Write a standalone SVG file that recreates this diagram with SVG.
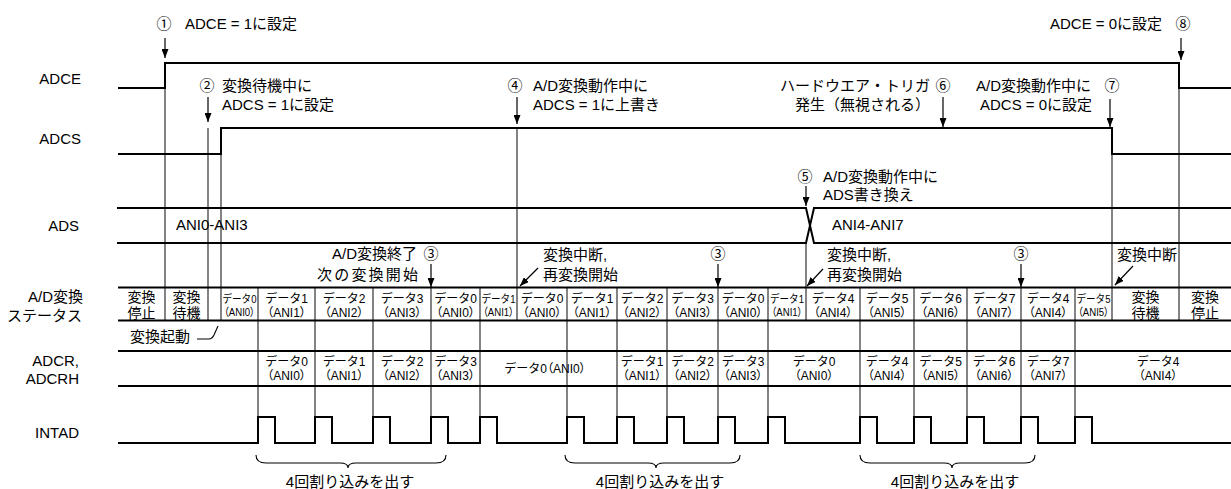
<svg xmlns="http://www.w3.org/2000/svg" width="1231" height="489" viewBox="0 0 1231 489">
<defs>
<style>
text{font-family:"Liberation Sans","Noto Sans CJK JP",sans-serif;fill:#000}
.lbl{font-size:15px;text-anchor:end}
.ann{font-size:15px}
.num{font-size:15px;text-anchor:middle}
.c{font-size:12px;text-anchor:middle}
.k{font-size:14px;text-anchor:middle}
.s{font-size:11px;text-anchor:middle}
.p{font-feature-settings:"palt"}
.sig{fill:none;stroke:#000;stroke-width:2}
.row{fill:none;stroke:#000;stroke-width:2}
.g{stroke:#333;stroke-width:1.2;fill:none}
.arr{stroke:#000;stroke-width:1.2;fill:none;marker-end:url(#ah)}
.br{stroke:#000;stroke-width:1.1;fill:none}
</style>
<marker id="ah" viewBox="0 0 9 7" refX="9" refY="3.5" markerWidth="9" markerHeight="7" markerUnits="userSpaceOnUse" orient="auto"><path d="M0,0 L9,3.5 L0,7 z" fill="#000"/></marker>
</defs>
<rect width="1231" height="489" fill="#fff"/>

<g id="connectors">
<path class="g" d="M165,88V320 M208,128V320 M221,154V320 M517,128V320 M806,243V320 M1112,154V320 M1179,88V320"/>
<path class="g" d="M258,287V443 M315,287V443 M373,287V443 M431,287V443 M480,287V443 M567,287V443 M617,287V443 M667,287V443 M718,287V443 M768,287V443 M860,287V443 M914,287V443 M967,287V443 M1021,287V443 M1075,287V443"/>
<path class="arr" d="M165,38V58"/>
<path class="arr" d="M208,97V122"/>
<path class="arr" d="M517,97V124"/>
<path class="arr" d="M943,97V127"/>
<path class="arr" d="M1110,99V127"/>
<path class="arr" d="M1181,38V60"/>
<path class="arr" d="M806,186V206"/>
<path class="arr" d="M431,264V287"/>
<path class="arr" d="M718,264V287"/>
<path class="arr" d="M1021,264V287"/>
<path class="arr" d="M538,268L520,286"/>
<path class="arr" d="M823,269L807,286"/>
<path class="arr" d="M1133,266L1115,285"/>
<path class="br" d="M197,339H209Q212,339 214,335L218,326"/>
<path class="br" d="M256,455Q256,463 266,463L340,463Q348,463 348,468Q348,463 356,463L436,463Q446,463 446,455"/>
<path class="br" d="M565,455Q565,463 575,463L648,463Q656,463 656,468Q656,463 664,463L730,463Q740,463 740,455"/>
<path class="br" d="M860,455Q860,463 870,463L944,463Q952,463 952,468Q952,463 960,463L1025,463Q1035,463 1035,455"/>
</g>

<g id="labels">
<text class="lbl" x="81" y="84">ADCE</text>
<text class="lbl" x="81" y="144">ADCS</text>
<text class="lbl" x="79" y="231">ADS</text>
<text class="lbl" x="83" y="302">A/D変換</text>
<text class="lbl" x="82" y="321">ステータス</text>
<text class="lbl" x="79" y="366">ADCR,</text>
<text class="lbl" x="79" y="384">ADCRH</text>
<text class="lbl" x="79" y="438">INTAD</text>
</g>

<g id="adce"><path class="sig" d="M118,88H165V63H1179V88H1231"/></g>
<g id="adcs"><path class="sig" d="M118,154H221V128H1112V154H1231"/></g>
<g id="ads">
<path class="sig" d="M117,208H806L814,243H1231 M117,243H806L814,208H1231"/>
<text class="ann" x="176" y="230">ANI0-ANI3</text>
<text class="ann" x="832" y="230">ANI4-ANI7</text>
</g>

<g id="status">
<path class="row" d="M118,287.5H1231 M118,320.5H1231"/>
<text class="k" x="141.5" y="302">変換</text><text class="k" x="141.5" y="318">停止</text>
<text class="k" x="186.5" y="302">変換</text><text class="k" x="186.5" y="318">待機</text>
<text class="s" x="239.5" y="303" textLength="34" lengthAdjust="spacingAndGlyphs">データ0</text><text class="s p" x="239.5" y="316" textLength="31" lengthAdjust="spacingAndGlyphs">（ANI0）</text>
<text class="c" x="286.5" y="303">データ1</text><text class="c p" x="286.5" y="317">（ANI1）</text>
<text class="c" x="344" y="303">データ2</text><text class="c p" x="344" y="317">（ANI2）</text>
<text class="c" x="402" y="303">データ3</text><text class="c p" x="402" y="317">（ANI3）</text>
<text class="c" x="455.5" y="303">データ0</text><text class="c p" x="455.5" y="317">（ANI0）</text>
<text class="s" x="498.5" y="303" textLength="34" lengthAdjust="spacingAndGlyphs">データ1</text><text class="s p" x="498.5" y="316" textLength="31" lengthAdjust="spacingAndGlyphs">（ANI1）</text>
<text class="c" x="542" y="303">データ0</text><text class="c p" x="542" y="317">（ANI0）</text>
<text class="c" x="592" y="303">データ1</text><text class="c p" x="592" y="317">（ANI1）</text>
<text class="c" x="642" y="303">データ2</text><text class="c p" x="642" y="317">（ANI2）</text>
<text class="c" x="692.5" y="303">データ3</text><text class="c p" x="692.5" y="317">（ANI3）</text>
<text class="c" x="743" y="303">データ0</text><text class="c p" x="743" y="317">（ANI0）</text>
<text class="s" x="787" y="303" textLength="34" lengthAdjust="spacingAndGlyphs">データ1</text><text class="s p" x="787" y="316" textLength="31" lengthAdjust="spacingAndGlyphs">（ANI1）</text>
<text class="c" x="833" y="303">データ4</text><text class="c p" x="833" y="317">（ANI4）</text>
<text class="c" x="887" y="303">データ5</text><text class="c p" x="887" y="317">（ANI5）</text>
<text class="c" x="940.5" y="303">データ6</text><text class="c p" x="940.5" y="317">（ANI6）</text>
<text class="c" x="994" y="303">データ7</text><text class="c p" x="994" y="317">（ANI7）</text>
<text class="c" x="1048" y="303">データ4</text><text class="c p" x="1048" y="317">（ANI4）</text>
<text class="s" x="1093.5" y="303" textLength="34" lengthAdjust="spacingAndGlyphs">データ5</text><text class="s p" x="1093.5" y="316" textLength="31" lengthAdjust="spacingAndGlyphs">（ANI5）</text>
<text class="k" x="1145.5" y="302">変換</text><text class="k" x="1145.5" y="318">待機</text>
<text class="k" x="1205" y="302">変換</text><text class="k" x="1205" y="318">停止</text>
</g>

<g id="adcr">
<path class="row" d="M118,351H1231 M118,386H1231"/>
<text class="c" x="286.5" y="366">データ0</text><text class="c p" x="286.5" y="380">（ANI0）</text>
<text class="c" x="344" y="366">データ1</text><text class="c p" x="344" y="380">（ANI1）</text>
<text class="c" x="402" y="366">データ2</text><text class="c p" x="402" y="380">（ANI2）</text>
<text class="c" x="455.5" y="366">データ3</text><text class="c p" x="455.5" y="380">（ANI3）</text>
<text class="c" x="545" y="373">データ0<tspan class="p">（ANI0）</tspan></text>
<text class="c" x="642" y="366">データ1</text><text class="c p" x="642" y="380">（ANI1）</text>
<text class="c" x="692.5" y="366">データ2</text><text class="c p" x="692.5" y="380">（ANI2）</text>
<text class="c" x="743" y="366">データ3</text><text class="c p" x="743" y="380">（ANI3）</text>
<text class="c" x="814" y="366">データ0</text><text class="c p" x="814" y="380">（ANI0）</text>
<text class="c" x="887" y="366">データ4</text><text class="c p" x="887" y="380">（ANI4）</text>
<text class="c" x="940.5" y="366">データ5</text><text class="c p" x="940.5" y="380">（ANI5）</text>
<text class="c" x="994" y="366">データ6</text><text class="c p" x="994" y="380">（ANI6）</text>
<text class="c" x="1048" y="366">データ7</text><text class="c p" x="1048" y="380">（ANI7）</text>
<text class="c" x="1158" y="366">データ4</text><text class="c p" x="1158" y="380">（ANI4）</text>
</g>

<g id="intad">
<path class="sig" d="M118,443H258V417H275V443H315V417H332V443H373V417H390V443H431V417H448V443H480V417H497V443H567V417H584V443H617V417H634V443H667V417H684V443H718V417H735V443H768V417H785V443H860V417H877V443H914V417H931V443H967V417H984V443H1021V417H1038V443H1075V417H1092V443H1231"/>
</g>

<g id="annotations">
<text class="num" x="164" y="29">①</text><text class="ann" x="185" y="29">ADCE = 1に設定</text>
<text class="num" x="207" y="91">②</text><text class="ann" x="222" y="91">変換待機中に</text><text class="ann" x="222" y="110">ADCS = 1に設定</text>
<text class="num" x="515" y="91">④</text><text class="ann" x="533" y="91">A/D変換動作中に</text><text class="ann" x="533" y="110">ADCS = 1に上書き</text>
<text class="ann" x="780" y="91">ハードウエア・トリガ</text><text class="num" x="943" y="91">⑥</text>
<text class="ann" x="795" y="110">発生（無視される）</text>
<text class="ann" x="976" y="91">A/D変換動作中に</text><text class="num" x="1112" y="91">⑦</text>
<text class="ann" x="980" y="110">ADCS = 0に設定</text>
<text class="ann" x="1050" y="29">ADCE = 0に設定</text><text class="num" x="1183" y="29">⑧</text>
<text class="num" x="805" y="182">⑤</text><text class="ann" x="823" y="182">A/D変換動作中に</text><text class="ann" x="823" y="200">ADS書き換え</text>
<text class="ann" x="332" y="259">A/D変換終了</text><text class="num" x="431" y="259">③</text>
<text class="ann" x="317" y="280" textLength="101">次の変換開始</text>
<text class="num" x="718" y="259">③</text>
<text class="num" x="1021" y="259">③</text>
<text class="ann" x="543" y="260">変換中断,</text><text class="ann" x="543" y="280">再変換開始</text>
<text class="ann" x="827" y="260">変換中断,</text><text class="ann" x="827" y="280">再変換開始</text>
<text class="ann" x="1117" y="260">変換中断</text>
<text class="ann" x="130" y="342">変換起動</text>
<text class="num" x="350" y="487">4回割り込みを出す</text>
<text class="num" x="660" y="487">4回割り込みを出す</text>
<text class="num" x="955" y="487">4回割り込みを出す</text>
</g>
</svg>
